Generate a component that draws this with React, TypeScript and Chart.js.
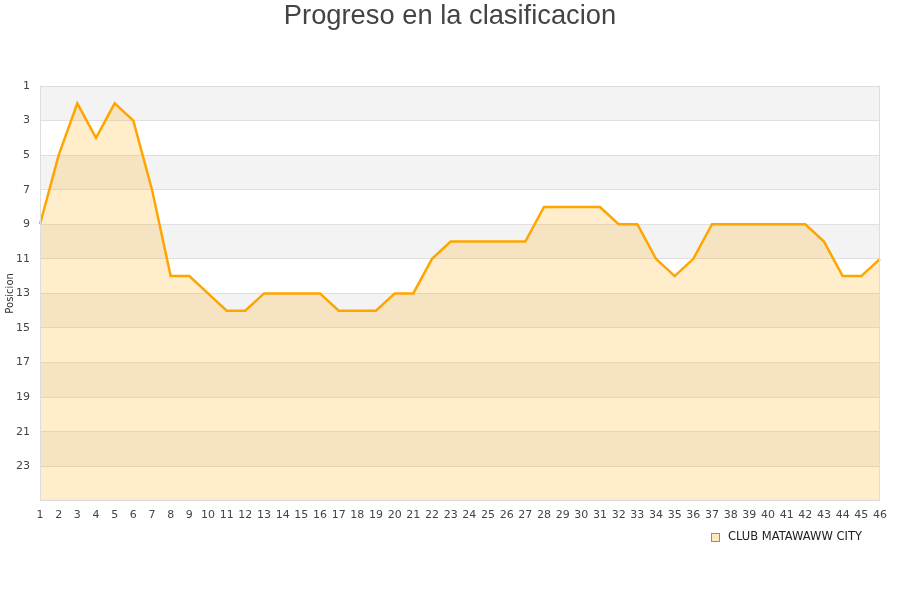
import React, { useEffect, useRef } from "react";
import { Chart, registerables } from "chart.js";

Chart.register(...registerables);

const jornadas: string[] = Array.from({ length: 46 }, (_, i) => String(i + 1));
const posiciones: number[] = [
  9, 5, 2, 4, 2, 3, 7, 12, 12, 13, 14, 14, 13, 13, 13, 13, 14, 14, 14, 13, 13, 11, 10,
  10, 10, 10, 10, 8, 8, 8, 8, 9, 9, 11, 12, 11, 9, 9, 9, 9, 9, 9, 10, 12, 12, 11,
];
const equipo = "CLUB MATAWAWW CITY";
const titulo = "Progreso en la clasificacion";
const ejeY = "Posicion";

const bandsPlugin = {
  id: "bands",
  beforeDraw(chart: any) {
    const { ctx, chartArea, scales } = chart;
    const y = scales.y;
    ctx.save();
    ctx.fillStyle = "#ffffff";
    ctx.fillRect(chartArea.left, chartArea.top, chartArea.right - chartArea.left, chartArea.bottom - chartArea.top);
    ctx.fillStyle = "#f3f3f3";
    for (let v = 1; v < 25; v += 4) {
      const a = y.getPixelForValue(v);
      const b = y.getPixelForValue(v + 2);
      ctx.fillRect(chartArea.left, a, chartArea.right - chartArea.left, b - a);
    }
    ctx.restore();
  },
  afterDraw(chart: any) {
    const { ctx, chartArea, width } = chart;
    ctx.save();
    ctx.strokeStyle = "#dddddd";
    ctx.lineWidth = 1;
    ctx.strokeRect(chartArea.left + 0.5, chartArea.top + 0.5, chartArea.right - chartArea.left - 1, chartArea.bottom - chartArea.top - 1);

    // title
    ctx.fillStyle = "#444444";
    ctx.font = "27.3px 'Liberation Sans'";
    ctx.textAlign = "center";
    ctx.textBaseline = "middle";
    ctx.fillText(titulo, width / 2, 16);

    // legend
    ctx.fillStyle = "rgba(255,165,0,0.25)";
    ctx.fillRect(711, 533, 9, 9);
    ctx.strokeStyle = "#a08c6e";
    ctx.strokeRect(711.5, 533.5, 8, 8);
    ctx.fillStyle = "#222222";
    ctx.font = "11.5px 'DejaVu Sans'";
    ctx.textAlign = "left";
    ctx.fillText(equipo, 728, 537.5);

    // y title
    ctx.translate(10, (chartArea.top + chartArea.bottom) / 2);
    ctx.rotate(-Math.PI / 2);
    ctx.fillStyle = "#333333";
    ctx.font = "10px 'DejaVu Sans'";
    ctx.textAlign = "center";
    ctx.fillText(ejeY, 0, 0);
    ctx.restore();
  },
};

export default function App() {
  const ref = useRef<HTMLCanvasElement | null>(null);
  useEffect(() => {
    if (!ref.current) return;
    const chart = new Chart(ref.current, {
      type: "line",
      data: {
        labels: jornadas,
        datasets: [
          {
            label: equipo,
            data: posiciones,
            borderColor: "#ffa500",
            backgroundColor: "rgba(255,165,0,0.2)",
            borderWidth: 2.5,
            pointRadius: 0,
            tension: 0,
            fill: { value: 25 },
          },
        ],
      },
      options: {
        animation: false,
        responsive: false,
        layout: { padding: { left: 0, right: 20, top: 86, bottom: 78 } },
        plugins: {
          title: { display: false },
          legend: { display: false },
          tooltip: { enabled: false },
        },
        scales: {
          x: {
            offset: false,
            grid: { display: false },
            border: { display: false },
            ticks: {
              autoSkip: false,
              maxRotation: 0,
              padding: 0,
              color: "#444444",
              font: { family: "DejaVu Sans", size: 11 },
            },
          },
          y: {
            min: 1,
            max: 25,
            reverse: true,
            border: { display: false },
            grid: { color: "#e0e0e0", drawTicks: false },
            afterFit: (s: any) => {
              s.width = 40;
            },
            ticks: {
              stepSize: 2,
              padding: 10,
              color: "#444444",
              font: { family: "DejaVu Sans", size: 11 },
              callback: (v: any) => (v === 25 ? "" : String(v)),
            },
          },
        },
      },
      plugins: [bandsPlugin],
    });
    return () => chart.destroy();
  }, []);
  return (
    <div style={{ position: "fixed", left: 0, top: 0, width: 900, height: 600, background: "#fff" }}>
      <canvas ref={ref} width={900} height={600} />
    </div>
  );
}
